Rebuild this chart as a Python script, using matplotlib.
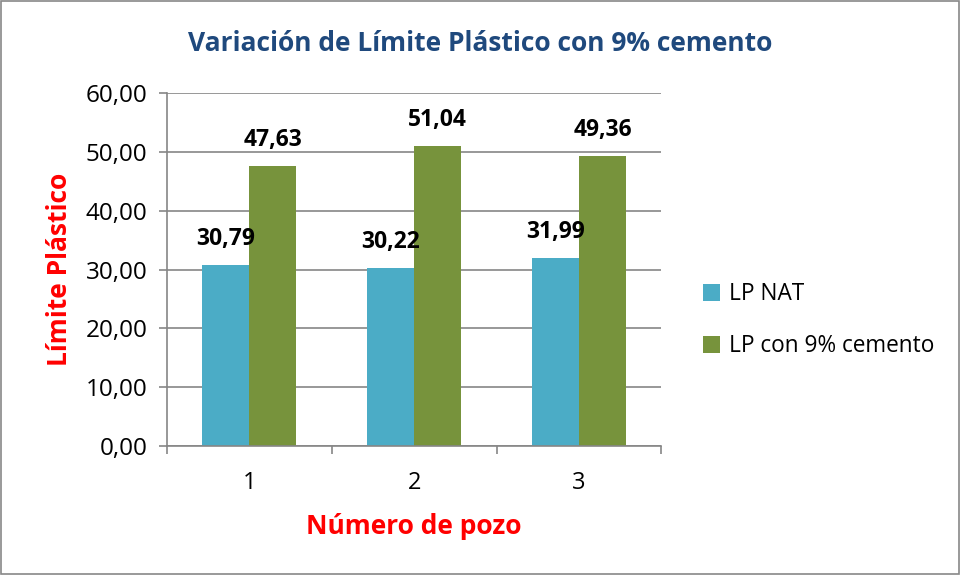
import matplotlib
matplotlib.use("Agg")
import matplotlib.pyplot as plt
import numpy as np
from matplotlib.patches import Rectangle

categories = ["1", "2", "3"]
lp_nat = [30.79, 30.22, 31.99]
lp_cem = [47.63, 51.04, 49.36]
series_names = ["LP NAT", "LP con 9% cemento"]
title = "Variación de Límite Plástico con 9% cemento"

plt.rcParams['font.family'] = ['Open Sans', 'DejaVu Sans']

fig = plt.figure(figsize=(9.61, 5.75), dpi=100)
fig.patches.append(Rectangle((0.001, 0.001), 0.997, 0.997, transform=fig.transFigure,
                             fill=False, edgecolor='#888888', linewidth=1.2))
ax = fig.add_axes([0.1738, 0.2243, 0.5145, 0.614])

x = np.arange(len(categories))
w = 0.285
c1, c2 = '#4BACC6', '#77933C'
b1 = ax.bar(x - w/2, lp_nat, w, color=c1, label=series_names[0])
b2 = ax.bar(x + w/2, lp_cem, w, color=c2, label=series_names[1])

def fmt(v):
    return f"{v:.2f}".replace('.', ',')

for bars, vals in ((b1, lp_nat), (b2, lp_cem)):
    for r, v in zip(bars, vals):
        ax.annotate(fmt(v), (r.get_x() + r.get_width()/2, v), xytext=(0, 10),
                    textcoords='offset points', ha='center', va='bottom',
                    fontsize=16.5, fontweight='bold', color='black')

ax.set_xlim(-0.5, 2.5)
ax.set_ylim(0, 60)
ax.set_yticks(np.arange(0, 61, 10))
ax.set_yticklabels([fmt(v) for v in np.arange(0, 61, 10)], fontsize=17.5)
ax.set_xticks(x)
ax.set_xticklabels(categories, fontsize=17)
ax.set_xticks([-0.5, 0.5, 1.5, 2.5], minor=True)
ax.tick_params(axis='x', which='major', length=0, pad=18)
ax.tick_params(axis='x', which='minor', length=6, color='#868686', width=1.2)
ax.tick_params(axis='y', length=6, color='#868686', width=1.2, pad=8)
ax.yaxis.grid(True, color='#868686', linewidth=1.2)
ax.set_axisbelow(True)
for s in ['top', 'right']:
    ax.spines[s].set_visible(False)
for s in ['left', 'bottom']:
    ax.spines[s].set_color('#868686')
    ax.spines[s].set_linewidth(1.2)

ax.set_ylabel("Límite Plástico", fontsize=19, fontweight='bold', color='#FF0000', labelpad=9)
ax.set_xlabel("Número de pozo", fontsize=19, fontweight='bold', color='#FF0000', labelpad=13)
fig.text(0.5, 0.925, title, ha='center', va='center', fontsize=19, fontweight='bold', color='#1F497D')

fig.legend(handles=[b1, b2], labels=series_names, loc='center left',
           bbox_to_anchor=(0.71, 0.443), frameon=False, fontsize=16.3,
           handlelength=0.75, handleheight=0.75, handletextpad=0.4, labelspacing=1.25)

fig.savefig("out.png", dpi=100)
